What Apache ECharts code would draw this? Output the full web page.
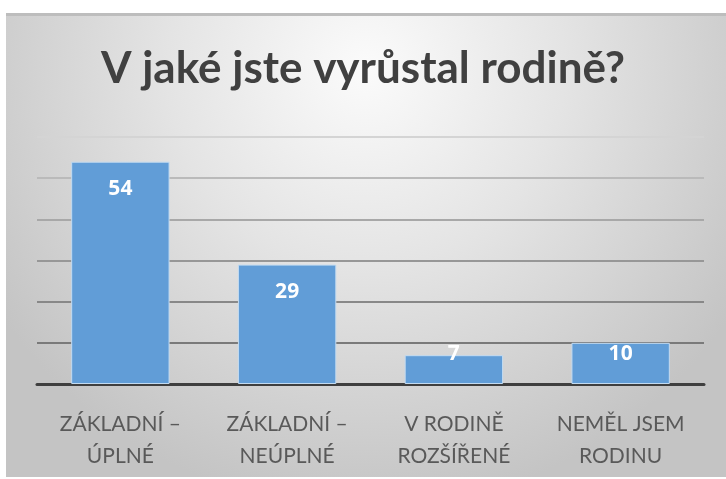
<!DOCTYPE html>
<html>
<head>
<meta charset="utf-8">
<script src="https://cdn.jsdelivr.net/npm/echarts@6/dist/echarts.min.js"></script>
<style>
  html, body { margin: 0; padding: 0; background: #fff; }
  #main { width: 726px; height: 479px; }
</style>
</head>
<body>
<div id="main"></div>
<script>
// data
var titleText = 'V jaké jste vyrůstal rodině?';
var categories = ['ZÁKLADNÍ –\nÚPLNÉ', 'ZÁKLADNÍ –\nNEÚPLNÉ', 'V RODINĚ\nROZŠÍŘENÉ', 'NEMĚL JSEM\nRODINU'];
var values = [54, 29, 7, 10];
var yTicks = [0, 10, 20, 30, 40, 50, 60];

var myChart = echarts.init(document.getElementById('main'));

// short bars: label sits at the bottom part of the bar
var barData = values.map(function (v) {
  if (v < 12) {
    return { value: v, label: { position: 'insideBottom', distance: 19 } };
  }
  return v;
});

var option = {
  backgroundColor: '#fff',
  graphic: [
    {
      type: 'rect',
      z: -10,
      shape: { x: 6, y: 13, width: 720, height: 464 },
      style: {
        fill: new echarts.graphic.RadialGradient(0.5, 0.12, 0.95, [
          { offset: 0, color: '#fbfbfb' },
          { offset: 0.45, color: '#e4e4e4' },
          { offset: 1, color: '#c4c4c4' }
        ])
      }
    },
    {
      type: 'rect',
      z: -9,
      shape: { x: 6, y: 13, width: 720, height: 3 },
      style: { fill: '#bdbdbd' }
    }
  ],
  title: {
    text: titleText,
    left: 'center',
    top: 42,
    textStyle: {
      fontFamily: 'Lato',
      fontWeight: 'bold',
      fontSize: 44,
      color: '#404040'
    }
  },
  grid: {
    left: 37,
    right: 22,
    top: 137,
    bottom: 95
  },
  xAxis: {
    type: 'category',
    data: categories,
    axisTick: { show: false },
    axisLine: {
      lineStyle: { color: '#3f3f3f', width: 3 }
    },
    axisLabel: {
      interval: 0,
      margin: 24,
      fontFamily: 'Lato',
      fontWeight: 'normal',
      fontSize: 21,
      lineHeight: 32,
      color: '#595959'
    }
  },
  yAxis: {
    type: 'value',
    min: yTicks[0],
    max: yTicks[yTicks.length - 1],
    interval: 10,
    axisLabel: { show: false },
    axisLine: { show: false },
    axisTick: { show: false },
    splitLine: {
      lineStyle: {
        width: 2,
        color: ['#3f3f3f', '#7a7a7a', '#888888', '#979797', '#a8a8a8', '#bababa', '#d4d4d4']
      }
    }
  },
  series: [
    {
      type: 'bar',
      data: barData,
      barWidth: '59%',
      itemStyle: {
        color: '#619dd7',
        borderColor: '#c3dbf1',
        borderWidth: 1
      },
      label: {
        show: true,
        position: 'insideTop',
        distance: 17,
        fontFamily: 'Open Sans',
        fontWeight: 'bold',
        fontSize: 21,
        color: '#ffffff'
      }
    }
  ]
};
myChart.setOption(option);
</script>
</body>
</html>
